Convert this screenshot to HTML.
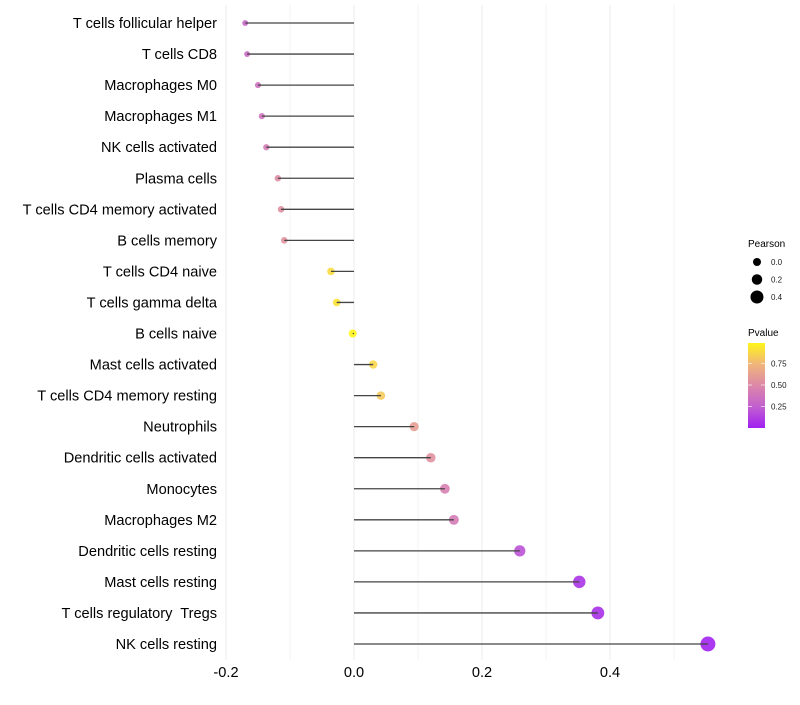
<!DOCTYPE html>
<html><head><meta charset="utf-8"><style>
body{margin:0;background:#fff;font-family:"Liberation Sans",sans-serif;}
svg text{font-family:"Liberation Sans",sans-serif;white-space:pre;}
</style></head><body>
<svg id="chart" width="800" height="700">
<defs><linearGradient id="pg" x1="0" y1="1" x2="0" y2="0">
<stop offset="0" stop-color="#a020f0"/><stop offset="0.25" stop-color="#c25fd0"/><stop offset="0.5" stop-color="#dc88a8"/><stop offset="0.75" stop-color="#f0b57a"/><stop offset="1" stop-color="#fff41a"/></linearGradient></defs>
<g id="grid"></g><g id="points"></g><g id="marks"></g><g id="ylab"></g><g id="xlab"></g>
<g>
<text x="748" y="247" font-size="10" fill="#000">Pearson</text>
<g id="sizeLeg"></g>
<text x="748" y="336" font-size="10" fill="#000">Pvalue</text>
<rect x="748" y="343" width="17" height="85" fill="url(#pg)"/>
<g id="colLeg"></g>
</g>
</svg>
<script>
const categories=["T cells follicular helper","T cells CD8","Macrophages M0","Macrophages M1","NK cells activated","Plasma cells","T cells CD4 memory activated","B cells memory","T cells CD4 naive","T cells gamma delta","B cells naive","Mast cells activated","T cells CD4 memory resting","Neutrophils","Dendritic cells activated","Monocytes","Macrophages M2","Dendritic cells resting","Mast cells resting","T cells regulatory  Tregs","NK cells resting"];
const pearson=[-0.170,-0.167,-0.150,-0.144,-0.137,-0.119,-0.114,-0.109,-0.036,-0.027,-0.002,0.030,0.042,0.094,0.120,0.142,0.156,0.259,0.352,0.381,0.553];
const pvalues=[0.30,0.32,0.36,0.38,0.42,0.52,0.54,0.56,0.90,0.93,1.0,0.88,0.83,0.62,0.55,0.45,0.42,0.20,0.08,0.06,0.01];
const xTicks=[-0.2,0.0,0.2,0.4];
const xTickLabels=["-0.2","0.0","0.2","0.4"];
const sizeLegendVals=[0.0,0.2,0.4];
const colorTicks=[0.25,0.5,0.75];
const colorTickLabels=["0.25","0.50","0.75"];

const NS="http://www.w3.org/2000/svg";
const x=v=>354+v*640;
const y=i=>23+i*31.05;
const r=v=>Math.max(1.5,4+6.3*v);
const stops=[[0,[160,32,240]],[0.25,[194,95,208]],[0.5,[220,136,168]],[0.75,[240,181,122]],[1,[255,244,26]]];
function col(p){for(let k=0;k<stops.length-1;k++){const a=stops[k],b=stops[k+1];if(p<=b[0]){const t=(p-a[0])/(b[0]-a[0]);return "rgb("+a[1].map((c,j)=>Math.round(c+(b[1][j]-c)*t)).join(",")+")";}}return "rgb(255,244,26)";}
function mk(tag,attrs,parent){const e=document.createElementNS(NS,tag);for(const k in attrs)e.setAttribute(k,attrs[k]);document.getElementById(parent).appendChild(e);return e;}
for(let g=-0.2;g<=0.51;g+=0.1){const e=mk("line",{x1:x(g),x2:x(g),y1:5,y2:660,stroke:"#ebebeb","stroke-width":Math.abs(Math.round(g*10))%2==0?1:0.6},"grid");

}
categories.forEach((c,i)=>{
 const p=mk("circle",{cx:x(pearson[i]),cy:y(i),r:r(pearson[i]),fill:col(pvalues[i]),"fill-opacity":0.9},"points");
 
 
 const s=mk("line",{x1:x(0),x2:x(pearson[i]),y1:y(i),y2:y(i),stroke:"#444","stroke-width":1.3},"marks");
 
 
 const t=mk("text",{x:217,y:y(i)+5,"text-anchor":"end","font-size":14.6,fill:"#000"},"ylab");t.textContent=c;
 
 
});
xTicks.forEach((v,i)=>{const t=mk("text",{x:x(v),y:677,"text-anchor":"middle","font-size":14.6,fill:"#000"},"xlab");t.textContent=xTickLabels[i];
 
 });
sizeLegendVals.forEach((v,i)=>{const cy=262+i*17.5;
 const c=mk("circle",{cx:757,cy:cy,r:r(v),fill:"#000"},"sizeLeg");
 
 
 const t=mk("text",{x:771,y:cy+3,"font-size":8,fill:"#1a1a1a"},"sizeLeg");t.textContent=v.toFixed(1);
 
 });
colorTicks.forEach((v,i)=>{const cy=428-v*86;
 const l=mk("line",{x1:748,x2:752,y1:cy,y2:cy,stroke:"#fff","stroke-opacity":0.6},"colLeg");
 
 
 const l2=mk("line",{x1:761,x2:765,y1:cy,y2:cy,stroke:"#fff","stroke-opacity":0.6},"colLeg");
 
 
 const t=mk("text",{x:771,y:cy+3,"font-size":8,fill:"#1a1a1a"},"colLeg");t.textContent=colorTickLabels[i];
 
 });
</script>
</body></html>
